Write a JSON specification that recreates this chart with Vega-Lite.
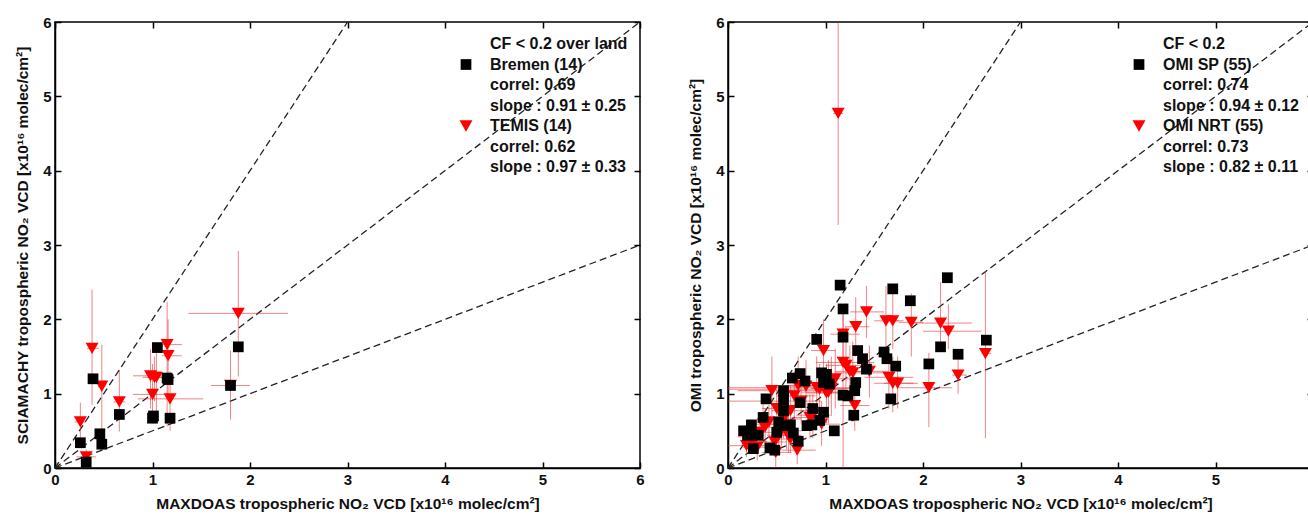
{
"$schema": "https://vega.github.io/schema/vega-lite/v6.json",
"padding": {"left": 14, "top": 14, "right": 0, "bottom": 0},
"background": "white",
"datasets": {
"refLines": [
{"line": "2:1", "x": 0, "y": 0}, {"line": "2:1", "x": 3, "y": 6},
{"line": "1:1", "x": 0, "y": 0}, {"line": "1:1", "x": 6, "y": 6},
{"line": "1:2", "x": 0, "y": 0}, {"line": "1:2", "x": 6, "y": 3}
],
"leftPts": [
{"series": "TEMIS  (14)", "x": 0.26, "y": 0.62, "xlo": 0.20, "xhi": 0.32, "ylo": 0.40, "yhi": 0.88},
{"series": "TEMIS  (14)", "x": 0.32, "y": 0.15, "xlo": 0.22, "xhi": 0.42, "ylo": 0.05, "yhi": 0.25},
{"series": "TEMIS  (14)", "x": 0.38, "y": 1.61, "xlo": 0.33, "xhi": 0.45, "ylo": 0.85, "yhi": 2.40},
{"series": "TEMIS  (14)", "x": 0.48, "y": 1.10, "xlo": 0.44, "xhi": 0.52, "ylo": 0.30, "yhi": 1.66},
{"series": "TEMIS  (14)", "x": 0.66, "y": 0.89, "xlo": 0.60, "xhi": 0.72, "ylo": 0.49, "yhi": 1.32},
{"series": "TEMIS  (14)", "x": 0.98, "y": 1.24, "xlo": 0.80, "xhi": 1.10, "ylo": 0.80, "yhi": 1.60},
{"series": "TEMIS  (14)", "x": 1.04, "y": 1.22, "xlo": 0.95, "xhi": 1.12, "ylo": 0.75, "yhi": 1.65},
{"series": "TEMIS  (14)", "x": 1.00, "y": 0.99, "xlo": 0.80, "xhi": 1.20, "ylo": 0.60, "yhi": 1.40},
{"series": "TEMIS  (14)", "x": 1.15, "y": 1.66, "xlo": 1.08, "xhi": 1.30, "ylo": 0.56, "yhi": 2.24},
{"series": "TEMIS  (14)", "x": 1.16, "y": 1.51, "xlo": 1.10, "xhi": 1.30, "ylo": 1.00, "yhi": 2.00},
{"series": "TEMIS  (14)", "x": 1.18, "y": 0.93, "xlo": 0.85, "xhi": 1.52, "ylo": 0.50, "yhi": 1.30},
{"series": "TEMIS  (14)", "x": 1.88, "y": 2.08, "xlo": 1.37, "xhi": 2.39, "ylo": 1.23, "yhi": 2.92},
{"series": "TEMIS  (14)", "x": 1.80, "y": 1.11, "xlo": 1.60, "xhi": 2.00, "ylo": 0.65, "yhi": 1.58},
{"series": "TEMIS  (14)", "x": 1.02, "y": 1.22, "xlo": 0.90, "xhi": 1.10, "ylo": 0.90, "yhi": 1.50},
{"series": "Bremen (14)", "x": 0.26, "y": 0.34},
{"series": "Bremen (14)", "x": 0.32, "y": 0.08},
{"series": "Bremen (14)", "x": 0.39, "y": 1.20},
{"series": "Bremen (14)", "x": 0.46, "y": 0.46},
{"series": "Bremen (14)", "x": 0.48, "y": 0.32},
{"series": "Bremen (14)", "x": 0.66, "y": 0.72},
{"series": "Bremen (14)", "x": 1.00, "y": 0.67},
{"series": "Bremen (14)", "x": 1.01, "y": 0.70},
{"series": "Bremen (14)", "x": 1.05, "y": 1.62},
{"series": "Bremen (14)", "x": 1.15, "y": 1.21},
{"series": "Bremen (14)", "x": 1.16, "y": 1.19},
{"series": "Bremen (14)", "x": 1.18, "y": 0.67},
{"series": "Bremen (14)", "x": 1.80, "y": 1.11},
{"series": "Bremen (14)", "x": 1.88, "y": 1.63}
],
"rightPts": [
{"series": "OMI NRT (55)", "x": 1.13, "y": 4.77, "xlo": 1.08, "xhi": 1.18, "ylo": 3.27, "yhi": 6.2},
{"series": "OMI NRT (55)", "x": 1.42, "y": 2.10, "xlo": 1.25, "xhi": 1.60, "ylo": 1.75, "yhi": 2.45},
{"series": "OMI NRT (55)", "x": 1.62, "y": 1.98, "xlo": 1.50, "xhi": 1.75, "ylo": 1.50, "yhi": 2.45},
{"series": "OMI NRT (55)", "x": 1.69, "y": 1.98, "xlo": 1.60, "xhi": 1.80, "ylo": 1.60, "yhi": 2.40},
{"series": "OMI NRT (55)", "x": 1.88, "y": 1.96, "xlo": 1.75, "xhi": 2.00, "ylo": 1.50, "yhi": 2.35},
{"series": "OMI NRT (55)", "x": 2.18, "y": 1.95, "xlo": 1.85, "xhi": 2.50, "ylo": 1.70, "yhi": 2.50},
{"series": "OMI NRT (55)", "x": 2.26, "y": 1.84, "xlo": 2.00, "xhi": 2.60, "ylo": 1.60, "yhi": 2.20},
{"series": "OMI NRT (55)", "x": 1.31, "y": 1.90, "xlo": 1.20, "xhi": 1.45, "ylo": 1.50, "yhi": 2.30},
{"series": "OMI NRT (55)", "x": 2.64, "y": 1.54, "xlo": 2.60, "xhi": 2.70, "ylo": 0.40, "yhi": 2.65},
{"series": "OMI NRT (55)", "x": 2.36, "y": 1.25, "xlo": 2.30, "xhi": 2.45, "ylo": 1.00, "yhi": 1.50},
{"series": "OMI NRT (55)", "x": 2.06, "y": 1.08, "xlo": 1.75, "xhi": 2.30, "ylo": 0.55, "yhi": 1.55},
{"series": "OMI NRT (55)", "x": 1.65, "y": 1.22, "xlo": 1.40, "xhi": 1.90, "ylo": 0.80, "yhi": 1.60},
{"series": "OMI NRT (55)", "x": 1.69, "y": 1.14, "xlo": 1.50, "xhi": 1.95, "ylo": 0.75, "yhi": 1.50},
{"series": "OMI NRT (55)", "x": 1.74, "y": 1.14, "xlo": 1.60, "xhi": 1.90, "ylo": 0.80, "yhi": 1.50},
{"series": "OMI NRT (55)", "x": 1.30, "y": 0.84, "xlo": 1.15, "xhi": 1.45, "ylo": 0.50, "yhi": 1.20},
{"series": "OMI NRT (55)", "x": 1.18, "y": 1.42, "xlo": 0.90, "xhi": 1.50, "ylo": 0.00, "yhi": 2.20},
{"series": "OMI NRT (55)", "x": 1.21, "y": 1.38, "xlo": 1.00, "xhi": 1.45, "ylo": 0.90, "yhi": 1.90},
{"series": "OMI NRT (55)", "x": 1.28, "y": 1.28, "xlo": 1.10, "xhi": 1.60, "ylo": 0.90, "yhi": 1.70},
{"series": "OMI NRT (55)", "x": 0.98, "y": 1.58, "xlo": 0.85, "xhi": 1.10, "ylo": 1.20, "yhi": 2.00},
{"series": "OMI NRT (55)", "x": 0.91, "y": 1.08, "xlo": 0.00, "xhi": 1.30, "ylo": 0.60, "yhi": 1.50},
{"series": "OMI NRT (55)", "x": 1.03, "y": 1.02, "xlo": 0.75, "xhi": 1.30, "ylo": 0.60, "yhi": 1.45},
{"series": "OMI NRT (55)", "x": 1.06, "y": 1.07, "xlo": 0.85, "xhi": 1.30, "ylo": 0.70, "yhi": 1.50},
{"series": "OMI NRT (55)", "x": 0.72, "y": 1.11, "xlo": 0.50, "xhi": 0.95, "ylo": 0.80, "yhi": 1.50},
{"series": "OMI NRT (55)", "x": 0.68, "y": 0.97, "xlo": 0.50, "xhi": 0.90, "ylo": 0.60, "yhi": 1.30},
{"series": "OMI NRT (55)", "x": 0.45, "y": 1.04, "xlo": 0.10, "xhi": 0.90, "ylo": 0.70, "yhi": 1.50},
{"series": "OMI NRT (55)", "x": 0.36, "y": 0.59, "xlo": 0.20, "xhi": 0.55, "ylo": 0.35, "yhi": 0.90},
{"series": "OMI NRT (55)", "x": 0.26, "y": 0.36, "xlo": 0.15, "xhi": 0.40, "ylo": 0.20, "yhi": 0.55},
{"series": "OMI NRT (55)", "x": 0.49, "y": 0.21, "xlo": 0.35, "xhi": 0.65, "ylo": 0.00, "yhi": 0.45},
{"series": "OMI NRT (55)", "x": 0.71, "y": 0.24, "xlo": 0.55, "xhi": 0.90, "ylo": 0.05, "yhi": 0.50},
{"series": "OMI NRT (55)", "x": 0.55, "y": 0.59, "xlo": 0.40, "xhi": 0.70, "ylo": 0.30, "yhi": 0.90},
{"series": "OMI NRT (55)", "x": 0.64, "y": 0.77, "xlo": 0.45, "xhi": 0.85, "ylo": 0.50, "yhi": 1.10},
{"series": "OMI NRT (55)", "x": 0.87, "y": 0.71, "xlo": 0.70, "xhi": 1.05, "ylo": 0.40, "yhi": 1.00},
{"series": "OMI NRT (55)", "x": 0.96, "y": 0.59, "xlo": 0.80, "xhi": 1.15, "ylo": 0.30, "yhi": 0.90},
{"series": "OMI NRT (55)", "x": 0.62, "y": 0.44, "xlo": 0.50, "xhi": 0.75, "ylo": 0.20, "yhi": 0.70},
{"series": "OMI NRT (55)", "x": 0.33, "y": 0.48, "xlo": 0.20, "xhi": 0.45, "ylo": 0.30, "yhi": 0.70},
{"series": "OMI NRT (55)", "x": 0.52, "y": 0.44, "xlo": 0.40, "xhi": 0.65, "ylo": 0.20, "yhi": 0.70},
{"series": "OMI NRT (55)", "x": 0.94, "y": 1.06, "xlo": 0.00, "xhi": 1.20, "ylo": 0.70, "yhi": 1.40},
{"series": "OMI NRT (55)", "x": 0.84, "y": 0.68, "xlo": 0.65, "xhi": 1.00, "ylo": 0.40, "yhi": 1.00},
{"series": "OMI NRT (55)", "x": 0.57, "y": 0.66, "xlo": 0.40, "xhi": 0.75, "ylo": 0.40, "yhi": 0.95},
{"series": "OMI NRT (55)", "x": 0.38, "y": 0.55, "xlo": 0.20, "xhi": 0.55, "ylo": 0.30, "yhi": 0.80},
{"series": "OMI NRT (55)", "x": 0.19, "y": 0.30, "xlo": 0.00, "xhi": 0.40, "ylo": 0.15, "yhi": 0.45},
{"series": "OMI NRT (55)", "x": 0.48, "y": 0.35, "xlo": 0.35, "xhi": 0.60, "ylo": 0.15, "yhi": 0.60},
{"series": "OMI NRT (55)", "x": 0.64, "y": 0.39, "xlo": 0.50, "xhi": 0.80, "ylo": 0.20, "yhi": 0.60},
{"series": "OMI NRT (55)", "x": 1.01, "y": 1.01, "xlo": 0.80, "xhi": 1.20, "ylo": 0.60, "yhi": 1.40},
{"series": "OMI NRT (55)", "x": 1.18, "y": 1.80, "xlo": 1.05, "xhi": 1.35, "ylo": 1.40, "yhi": 2.20},
{"series": "OMI NRT (55)", "x": 1.25, "y": 1.30, "xlo": 1.10, "xhi": 1.40, "ylo": 0.95, "yhi": 1.65},
{"series": "OMI NRT (55)", "x": 0.80, "y": 1.10, "xlo": 0.60, "xhi": 1.00, "ylo": 0.75, "yhi": 1.45},
{"series": "OMI NRT (55)", "x": 0.22, "y": 0.42, "xlo": 0.10, "xhi": 0.35, "ylo": 0.25, "yhi": 0.60},
{"series": "OMI NRT (55)", "x": 0.30, "y": 0.28, "xlo": 0.15, "xhi": 0.45, "ylo": 0.10, "yhi": 0.45},
{"series": "OMI NRT (55)", "x": 0.60, "y": 0.50, "xlo": 0.45, "xhi": 0.75, "ylo": 0.25, "yhi": 0.75},
{"series": "OMI NRT (55)", "x": 1.10, "y": 1.20, "xlo": 0.95, "xhi": 1.25, "ylo": 0.80, "yhi": 1.60},
{"series": "OMI NRT (55)", "x": 0.75, "y": 0.90, "xlo": 0.00, "xhi": 0.95, "ylo": 0.60, "yhi": 1.20},
{"series": "OMI NRT (55)", "x": 0.42, "y": 0.62, "xlo": 0.25, "xhi": 0.60, "ylo": 0.40, "yhi": 0.85},
{"series": "OMI NRT (55)", "x": 1.45, "y": 1.30, "xlo": 1.30, "xhi": 1.65, "ylo": 0.95, "yhi": 1.65},
{"series": "OMI NRT (55)", "x": 0.50, "y": 0.80, "xlo": 0.35, "xhi": 0.65, "ylo": 0.55, "yhi": 1.05},
{"series": "OMI SP  (55)", "x": 1.15, "y": 2.46},
{"series": "OMI SP  (55)", "x": 1.69, "y": 2.41},
{"series": "OMI SP  (55)", "x": 2.25, "y": 2.56},
{"series": "OMI SP  (55)", "x": 1.87, "y": 2.25},
{"series": "OMI SP  (55)", "x": 1.18, "y": 2.14},
{"series": "OMI SP  (55)", "x": 1.18, "y": 1.76},
{"series": "OMI SP  (55)", "x": 0.91, "y": 1.73},
{"series": "OMI SP  (55)", "x": 2.65, "y": 1.72},
{"series": "OMI SP  (55)", "x": 2.18, "y": 1.63},
{"series": "OMI SP  (55)", "x": 2.36, "y": 1.53},
{"series": "OMI SP  (55)", "x": 1.33, "y": 1.58},
{"series": "OMI SP  (55)", "x": 1.38, "y": 1.47},
{"series": "OMI SP  (55)", "x": 1.60, "y": 1.56},
{"series": "OMI SP  (55)", "x": 1.63, "y": 1.47},
{"series": "OMI SP  (55)", "x": 1.72, "y": 1.37},
{"series": "OMI SP  (55)", "x": 1.42, "y": 1.33},
{"series": "OMI SP  (55)", "x": 2.06, "y": 1.40},
{"series": "OMI SP  (55)", "x": 1.31, "y": 1.15},
{"series": "OMI SP  (55)", "x": 1.30, "y": 1.04},
{"series": "OMI SP  (55)", "x": 1.18, "y": 0.98},
{"series": "OMI SP  (55)", "x": 1.23, "y": 0.97},
{"series": "OMI SP  (55)", "x": 1.29, "y": 0.71},
{"series": "OMI SP  (55)", "x": 1.67, "y": 0.93},
{"series": "OMI SP  (55)", "x": 1.09, "y": 0.50},
{"series": "OMI SP  (55)", "x": 0.96, "y": 1.28},
{"series": "OMI SP  (55)", "x": 1.01, "y": 1.26},
{"series": "OMI SP  (55)", "x": 0.98, "y": 1.15},
{"series": "OMI SP  (55)", "x": 1.04, "y": 1.13},
{"series": "OMI SP  (55)", "x": 0.87, "y": 0.80},
{"series": "OMI SP  (55)", "x": 0.98, "y": 0.75},
{"series": "OMI SP  (55)", "x": 0.94, "y": 0.64},
{"series": "OMI SP  (55)", "x": 0.86, "y": 0.58},
{"series": "OMI SP  (55)", "x": 0.81, "y": 0.57},
{"series": "OMI SP  (55)", "x": 0.66, "y": 1.21},
{"series": "OMI SP  (55)", "x": 0.74, "y": 1.27},
{"series": "OMI SP  (55)", "x": 0.79, "y": 1.17},
{"series": "OMI SP  (55)", "x": 0.74, "y": 0.88},
{"series": "OMI SP  (55)", "x": 0.39, "y": 0.93},
{"series": "OMI SP  (55)", "x": 0.57, "y": 1.04},
{"series": "OMI SP  (55)", "x": 0.57, "y": 0.91},
{"series": "OMI SP  (55)", "x": 0.57, "y": 0.77},
{"series": "OMI SP  (55)", "x": 0.52, "y": 0.62},
{"series": "OMI SP  (55)", "x": 0.64, "y": 0.58},
{"series": "OMI SP  (55)", "x": 0.67, "y": 0.47},
{"series": "OMI SP  (55)", "x": 0.72, "y": 0.36},
{"series": "OMI SP  (55)", "x": 0.36, "y": 0.68},
{"series": "OMI SP  (55)", "x": 0.24, "y": 0.58},
{"series": "OMI SP  (55)", "x": 0.20, "y": 0.44},
{"series": "OMI SP  (55)", "x": 0.31, "y": 0.44},
{"series": "OMI SP  (55)", "x": 0.26, "y": 0.26},
{"series": "OMI SP  (55)", "x": 0.43, "y": 0.27},
{"series": "OMI SP  (55)", "x": 0.48, "y": 0.24},
{"series": "OMI SP  (55)", "x": 0.50, "y": 0.48},
{"series": "OMI SP  (55)", "x": 0.16, "y": 0.50},
{"series": "OMI SP  (55)", "x": 0.60, "y": 0.57}
]
},
"hconcat": [
{
"width": 585, "height": 446,
"layer": [
{"layer": [
{"data": {"name": "refLines"}, "mark": {"type": "line", "strokeDash": [7, 4], "color": "#222", "strokeWidth": 1.3, "clip": true},
 "encoding": {
  "x": {"field": "x", "type": "quantitative", "title": "MAXDOAS tropospheric NO₂ VCD [x10¹⁶ molec/cm²]", "scale": {"domain": [0, 6], "nice": false, "zero": false}, "axis": {"values": [0,1,2,3,4,5,6], "format": "d"}},
  "y": {"field": "y", "type": "quantitative", "title": "SCIAMACHY tropospheric NO₂ VCD [x10¹⁶ molec/cm²]", "scale": {"domain": [0, 6], "nice": false, "zero": false}, "axis": {"values": [0,1,2,3,4,5,6], "format": "d"}},
  "detail": {"field": "line"}}},
{"data": {"name": "leftPts"}, "transform": [{"filter": "isValid(datum.ylo)"}], "mark": {"type": "rule", "color": "#e83030", "opacity": 0.6, "strokeWidth": 1, "clip": true},
 "encoding": {
  "x": {"field": "x", "type": "quantitative", "title": "MAXDOAS tropospheric NO₂ VCD [x10¹⁶ molec/cm²]"},
  "y": {"field": "ylo", "type": "quantitative", "title": "SCIAMACHY tropospheric NO₂ VCD [x10¹⁶ molec/cm²]"},
  "y2": {"field": "yhi"}}},
{"data": {"name": "leftPts"}, "transform": [{"filter": "isValid(datum.xlo)"}], "mark": {"type": "rule", "color": "#e83030", "opacity": 0.6, "strokeWidth": 1, "clip": true},
 "encoding": {
  "x": {"field": "xlo", "type": "quantitative", "title": "MAXDOAS tropospheric NO₂ VCD [x10¹⁶ molec/cm²]"},
  "x2": {"field": "xhi"},
  "y": {"field": "y", "type": "quantitative", "title": "SCIAMACHY tropospheric NO₂ VCD [x10¹⁶ molec/cm²]"}}},
{"data": {"name": "leftPts"}, "mark": {"type": "point", "filled": true, "opacity": 1, "clip": true},
 "encoding": {
  "x": {"field": "x", "type": "quantitative", "title": "MAXDOAS tropospheric NO₂ VCD [x10¹⁶ molec/cm²]"},
  "y": {"field": "y", "type": "quantitative", "title": "SCIAMACHY tropospheric NO₂ VCD [x10¹⁶ molec/cm²]"},
  "color": {"field": "series", "type": "nominal",
   "scale": {"domain": ["CF < 0.2 over land", "Bremen (14)", "correl: 0.69", "slope : 0.91 ± 0.25", "TEMIS  (14)", "correl: 0.62", "slope : 0.97 ± 0.33"],
             "range": ["transparent", "#000000", "transparent", "transparent", "#ff0000", "transparent", "transparent"]},
   "legend": {"title": null, "orient": "none", "legendX": 403, "legendY": 14}},
  "shape": {"field": "series", "type": "nominal",
   "scale": {"domain": ["CF < 0.2 over land", "Bremen (14)", "correl: 0.69", "slope : 0.91 ± 0.25", "TEMIS  (14)", "correl: 0.62", "slope : 0.97 ± 0.33"],
             "range": ["circle", "square", "circle", "circle", "triangle-down", "circle", "circle"]},
   "legend": {"title": null, "orient": "none", "legendX": 403, "legendY": 14}},
  "size": {"field": "series", "type": "nominal",
   "scale": {"type": "ordinal", "domain": ["CF < 0.2 over land", "Bremen (14)", "correl: 0.69", "slope : 0.91 ± 0.25", "TEMIS  (14)", "correl: 0.62", "slope : 0.97 ± 0.33"],
             "range": [10, 115, 10, 10, 170, 10, 10]},
   "legend": {"title": null, "orient": "none", "legendX": 403, "legendY": 14}}}}
]},
{"data": {"name": "refLines"}, "mark": {"type": "point", "opacity": 0},
 "encoding": {
  "x": {"field": "x", "type": "quantitative", "axis": {"values": [0,1,2,3,4,5,6], "labels": false, "title": null, "domain": false}},
  "y": {"field": "y", "type": "quantitative", "axis": {"values": [0,1,2,3,4,5,6], "labels": false, "title": null, "domain": false}}}}
],
"resolve": {"axis": {"x": "independent", "y": "independent"}}
},
{
"width": 585, "height": 446,
"layer": [
{"layer": [
{"data": {"name": "refLines"}, "mark": {"type": "line", "strokeDash": [7, 4], "color": "#222", "strokeWidth": 1.3, "clip": true},
 "encoding": {
  "x": {"field": "x", "type": "quantitative", "title": "MAXDOAS tropospheric NO₂ VCD [x10¹⁶ molec/cm²]", "scale": {"domain": [0, 6], "nice": false, "zero": false}, "axis": {"values": [0,1,2,3,4,5], "format": "d"}},
  "y": {"field": "y", "type": "quantitative", "title": "OMI tropospheric NO₂ VCD [x10¹⁶ molec/cm²]", "scale": {"domain": [0, 6], "nice": false, "zero": false}, "axis": {"values": [0,1,2,3,4,5,6], "format": "d"}},
  "detail": {"field": "line"}}},
{"data": {"name": "rightPts"}, "transform": [{"filter": "isValid(datum.ylo)"}], "mark": {"type": "rule", "color": "#e83030", "opacity": 0.6, "strokeWidth": 1, "clip": true},
 "encoding": {
  "x": {"field": "x", "type": "quantitative", "title": "MAXDOAS tropospheric NO₂ VCD [x10¹⁶ molec/cm²]"},
  "y": {"field": "ylo", "type": "quantitative", "title": "OMI tropospheric NO₂ VCD [x10¹⁶ molec/cm²]"},
  "y2": {"field": "yhi"}}},
{"data": {"name": "rightPts"}, "transform": [{"filter": "isValid(datum.xlo)"}], "mark": {"type": "rule", "color": "#e83030", "opacity": 0.6, "strokeWidth": 1, "clip": true},
 "encoding": {
  "x": {"field": "xlo", "type": "quantitative", "title": "MAXDOAS tropospheric NO₂ VCD [x10¹⁶ molec/cm²]"},
  "x2": {"field": "xhi"},
  "y": {"field": "y", "type": "quantitative", "title": "OMI tropospheric NO₂ VCD [x10¹⁶ molec/cm²]"}}},
{"data": {"name": "rightPts"}, "mark": {"type": "point", "filled": true, "opacity": 1, "clip": true},
 "encoding": {
  "x": {"field": "x", "type": "quantitative", "title": "MAXDOAS tropospheric NO₂ VCD [x10¹⁶ molec/cm²]"},
  "y": {"field": "y", "type": "quantitative", "title": "OMI tropospheric NO₂ VCD [x10¹⁶ molec/cm²]"},
  "color": {"field": "series", "type": "nominal",
   "scale": {"domain": ["CF < 0.2", "OMI SP  (55)", "correl: 0.74", "slope : 0.94 ± 0.12", "OMI NRT (55)", "correl: 0.73", "slope : 0.82 ± 0.11"],
             "range": ["transparent", "#000000", "transparent", "transparent", "#ff0000", "transparent", "transparent"]},
   "legend": {"title": null, "orient": "none", "legendX": 403, "legendY": 14}},
  "shape": {"field": "series", "type": "nominal",
   "scale": {"domain": ["CF < 0.2", "OMI SP  (55)", "correl: 0.74", "slope : 0.94 ± 0.12", "OMI NRT (55)", "correl: 0.73", "slope : 0.82 ± 0.11"],
             "range": ["circle", "square", "circle", "circle", "triangle-down", "circle", "circle"]},
   "legend": {"title": null, "orient": "none", "legendX": 403, "legendY": 14}},
  "size": {"field": "series", "type": "nominal",
   "scale": {"type": "ordinal", "domain": ["CF < 0.2", "OMI SP  (55)", "correl: 0.74", "slope : 0.94 ± 0.12", "OMI NRT (55)", "correl: 0.73", "slope : 0.82 ± 0.11"],
             "range": [10, 115, 10, 10, 170, 10, 10]},
   "legend": {"title": null, "orient": "none", "legendX": 403, "legendY": 14}}}}
]},
{"data": {"name": "refLines"}, "mark": {"type": "point", "opacity": 0},
 "encoding": {
  "x": {"field": "x", "type": "quantitative", "axis": {"values": [0,1,2,3,4,5,6], "labels": false, "title": null, "domain": false}},
  "y": {"field": "y", "type": "quantitative", "axis": {"values": [0,1,2,3,4,5,6], "labels": false, "title": null, "domain": false}}}}
],
"resolve": {"axis": {"x": "independent", "y": "independent"}}
}
],
"spacing": 88,
"bounds": "flush",
"resolve": {"scale": {"color": "independent", "shape": "independent", "size": "independent", "x": "independent", "y": "independent"}, "legend": {"color": "independent", "shape": "independent", "size": "independent"}},
"config": {
 "font": "Liberation Sans",
 "view": {"stroke": "#000", "strokeWidth": 1.5},
 "axis": {"grid": false, "domainColor": "#000", "domainWidth": 1.5, "tickColor": "#000", "tickWidth": 1.5, "tickSize": -6, "labelPadding": 10, "labelFlush": false,
          "labelFont": "Liberation Sans", "labelFontSize": 15, "labelFontWeight": "bold", "labelColor": "#111",
          "titleFont": "Liberation Sans", "titleFontSize": 15.5, "titleFontWeight": "bold", "titleColor": "#111"},
 "axisX": {"titlePadding": 9},
 "axisY": {"titlePadding": 12},
 "legend": {"labelFont": "Liberation Sans", "labelFontSize": 16, "labelFontWeight": "bold", "labelColor": "#111", "rowPadding": 4.5, "labelOffset": 16, "padding": 0, "symbolStrokeWidth": 0, "labelLimit": 400}
}
}
